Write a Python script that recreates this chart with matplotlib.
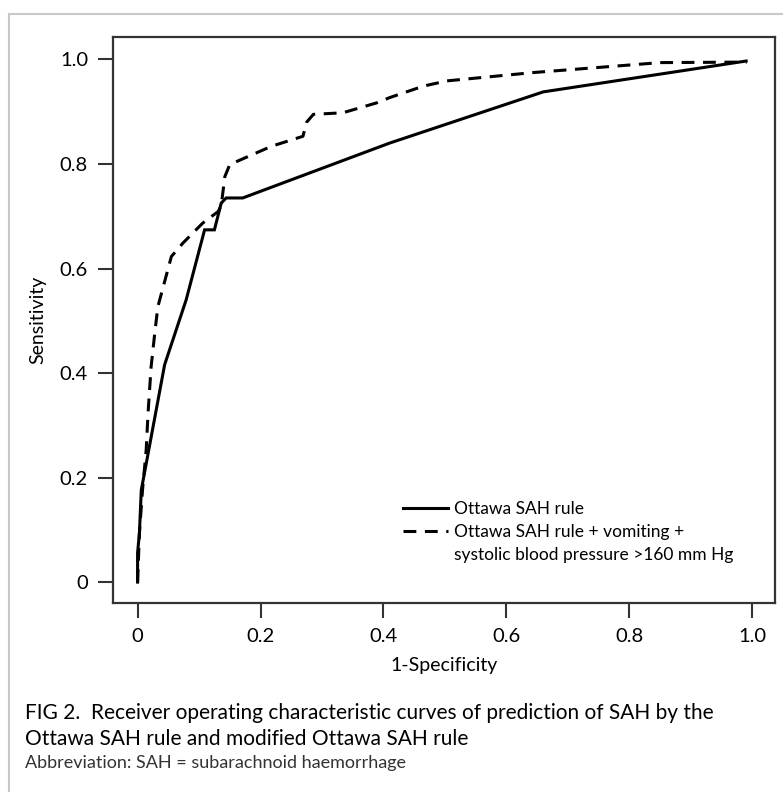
import matplotlib
matplotlib.use("Agg")
import matplotlib.pyplot as plt
from matplotlib.lines import Line2D

plt.rcParams['font.family'] = ['Lato', 'DejaVu Sans']

# ROC points (1-specificity, sensitivity)
ottawa_fpr = [0.0, 0.0, 0.003, 0.006, 0.044, 0.079, 0.109, 0.125, 0.136, 0.144, 0.171, 0.41, 0.66, 0.99]
ottawa_tpr = [0.0, 0.056, 0.094, 0.176, 0.416, 0.54, 0.674, 0.674, 0.725, 0.735, 0.735, 0.84, 0.938, 0.997]

modified_fpr = [0.0, 0.003, 0.008, 0.014, 0.017, 0.022, 0.028, 0.033, 0.055, 0.074, 0.106, 0.131, 0.136,
                0.142, 0.15, 0.218, 0.269, 0.275, 0.286, 0.334, 0.389, 0.41, 0.465, 0.503, 0.644, 0.85, 0.991]
modified_tpr = [0.0, 0.094, 0.176, 0.253, 0.323, 0.412, 0.477, 0.527, 0.623, 0.649, 0.687, 0.709, 0.72,
                0.776, 0.799, 0.834, 0.853, 0.88, 0.895, 0.898, 0.917, 0.927, 0.949, 0.959, 0.975, 0.994, 0.995]

labels = ["Ottawa SAH rule",
          "Ottawa SAH rule + vomiting +",
          "systolic blood pressure >160 mm Hg"]
ticks = [0, 0.2, 0.4, 0.6, 0.8, 1.0]
tick_labels = ["0", "0.2", "0.4", "0.6", "0.8", "1.0"]

fig = plt.figure(figsize=(7.83, 7.92), dpi=100)
ax = fig.add_axes([113 / 783, 1 - 603 / 792, 662 / 783, 566 / 792])

solid, = ax.plot(ottawa_fpr, ottawa_tpr, color='black', linewidth=2.2, solid_joinstyle='miter')
dashed, = ax.plot(modified_fpr, modified_tpr, color='black', linewidth=2.2)
dashed.set_dashes([4.2, 2.8])

ax.set_xlim(-0.04, 1.037)
ax.set_ylim(-0.04, 1.043)
ax.set_xticks(ticks)
ax.set_xticklabels(tick_labels)
ax.set_yticks(ticks)
ax.set_yticklabels(tick_labels)
ax.tick_params(direction='out', length=11, width=1.5, color='#333333', labelsize=14.5, pad=7)
for s in ax.spines.values():
    s.set_linewidth(1.6)
    s.set_color('#333333')

ax.set_xlabel("1-Specificity", fontsize=14, labelpad=9)
ax.set_ylabel("Sensitivity", fontsize=14, labelpad=10)

# third entry is only the wrapped second line of the dashed label
blank = Line2D([], [], linestyle='none')
ax.legend([solid, dashed, blank], labels, loc='center left',
          bbox_to_anchor=(403 / 783, 1 - 532 / 792), bbox_transform=fig.transFigure,
          frameon=False, fontsize=12.5, handlelength=2.6, handletextpad=0.35,
          labelspacing=0.4, borderpad=0, borderaxespad=0)

# caption
fig.text(25 / 783, 1 - 713 / 792, "FIG 2.  Receiver operating characteristic curves of prediction of SAH by the",
         fontsize=15, va='center')
fig.text(25 / 783, 1 - 739 / 792, "Ottawa SAH rule and modified Ottawa SAH rule", fontsize=15, va='center')
fig.text(25 / 783, 1 - 763 / 792, "Abbreviation: SAH = subarachnoid haemorrhage", fontsize=13,
         va='center', color='#333333')

# light grey page frame (top and left edge)
fig.add_artist(Line2D([9 / 783, 9 / 783], [0, 1 - 14 / 792], transform=fig.transFigure, color='#c8c8c8', lw=1.5))
fig.add_artist(Line2D([9 / 783, 1], [1 - 14 / 792, 1 - 14 / 792], transform=fig.transFigure, color='#c8c8c8', lw=1.5))

fig.savefig("out.png", dpi=100)
